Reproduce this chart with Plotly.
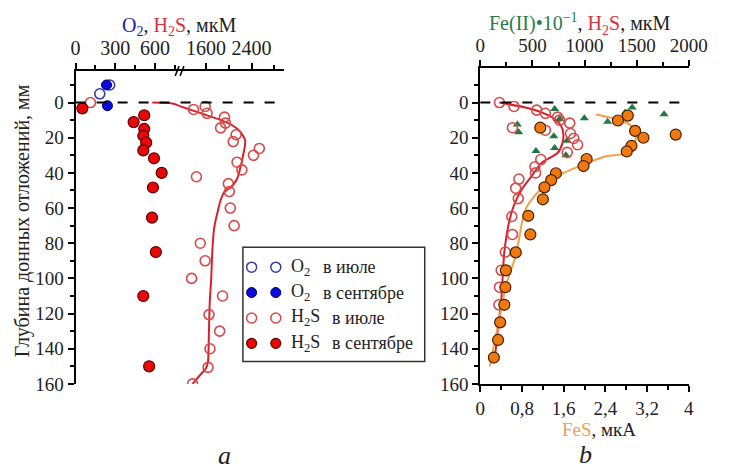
import plotly.graph_objects as go

W, H = 730, 475
def px(x): return x / W
def py(y): return 1 - y / H

FONT = "Liberation Serif, Times New Roman, Tinos, DejaVu Serif, serif"

# ---------------- Panel a data ----------------
o2_jul_conc = [183, 258]
o2_jul_depth = [-5, -10]
o2_sep_conc = [234, 241]
o2_sep_depth = [-10, 1.8]
h2s_sep_conc = [51, 519, 439, 519, 512, 534, 512, 593, 651, 585, 578, 607, 512, 556]
h2s_sep_depth = [3.3, 7.2, 11.1, 15, 18.9, 22.8, 27.2, 31.7, 40, 48.3, 65.4, 85, 110, 150]
h2s_jul_conc = [112, 1379, 1583, 1617, 1923, 1940, 1855, 2127, 2076, 2535, 2433, 2144, 2229, 1430,
                1991, 2008, 2025, 2093, 1498, 1583, 1345, 1889, 1651, 1838, 1668, 1634, 1362]
h2s_jul_depth = [0, 3.9, 2.2, 6.1, 8.3, 11.7, 14.4, 18.3, 22.2, 26.1, 30, 33.9, 38.3, 42.2,
                 46.1, 50.6, 60, 70, 80, 90, 100, 110, 120.6, 130, 140, 150.6, 160]
h2s_jul_fit_conc = [580, 731, 790, 1142, 1464, 1804, 2059, 2200, 2286, 2280, 2258, 2210, 2144, 2040,
                    1918, 1850, 1804, 1760, 1736, 1707, 1690, 1663, 1650, 1634, 1600, 1480, 1362]
h2s_jul_fit_depth = [0, 0.5, 2, 2, 5.6, 9.3, 12.9, 16.5, 21.3, 25, 28.7, 36, 43.5, 48,
                     51, 56, 62, 68, 73, 86, 100, 114, 130, 147, 151, 155.5, 160]

# broken top axis of panel a
BRK_LO, BRK_HI = 790, 1142
ticks_a_lo = [0, 300, 600]
ticks_a_hi = [1600, 2400]

# ---------------- Panel b data ----------------
fe_conc = [713, 761, 998, 1222, 1390, 1457, 1763, 355, 368, 705, 831, 534, 821, 713]
fe_depth = [3.7, 9.4, 8.9, 10.9, 5.6, 2.8, 6.7, 12.5, 16.9, 19.1, 21.7, 27.5, 29.9, 25.9]
h2s_b_conc = [184, 323, 540, 624, 741, 760, 858, 865, 896, 933, 308, 624, 834, 580, 524, 530,
              370, 339, 364, 302, 308, 240, 200, 184, 178]
h2s_b_depth = [0, 2.2, 4.3, 6.1, 8.3, 10, 11.7, 17.6, 20.4, 24, 14.3, 15.7, 28.3, 32.4, 36.5, 40,
               43.5, 48.7, 54.6, 64.8, 75, 85, 95.4, 105, 115]
h2s_b_fit_conc = [181, 432, 589, 710, 772, 796, 787, 741, 587, 494, 401, 323, 277, 230, 200, 169, 137, 100]
h2s_b_fit_depth = [0, 2.8, 5.6, 9.3, 12.9, 17.6, 23.2, 28.7, 34.3, 41.7, 49, 58.3, 67.6, 85, 113, 128, 144.4, 148]
fes_val = [2.83, 2.64, 1.15, 2.97, 3.75, 3.13, 2.90, 2.81, 2.04, 1.98, 1.45, 1.36, 1.23, 1.20,
           0.92, 0.96, 0.68, 0.49, 0.48, 0.46, 0.38, 0.34, 0.26]
fes_depth = [7.4, 10.2, 14.3, 16.1, 18.2, 20, 24.6, 27.8, 32.1, 36.1, 40.2, 44.1, 48.2, 55,
             64.4, 75, 85.2, 95.4, 105, 115, 125, 135, 145]
fes_fit_val = [2.22, 2.59, 2.84, 3.0, 2.97, 2.84, 2.41, 2.0, 1.6, 1.3, 1.05, 0.88, 0.8, 0.74,
               0.66, 0.5, 0.37, 0.27, 0.18]
fes_fit_depth = [6.8, 9.3, 12, 16.7, 22.2, 28.7, 30.5, 35, 40, 45.4, 52.8, 60, 68, 78,
                 89, 103, 122, 137, 150]
ticks_b_top = [0, 500, 1000, 1500, 2000]
ticks_b_bot = [0, 0.8, 1.6, 2.4, 3.2, 4]
ticks_b_bot_txt = ["0", "0,8", "1,6", "2,4", "3,2", "4"]
depth_ticks = list(range(0, 161, 20))

# colours
C_BLUE_O = "#3a3aa8"
C_BLUE_F = "#0a0ae0"
C_RED_O = "#d84848"
C_RED_F = "#e80808"
C_RED_L = "#d8202c"
C_ORANGE = "#f07810"
C_ORANGE_L = "#f2a04a"
C_GREEN = "#1e7a40"
DARK = "#222222"

def split(conc, depth, lo, hi):
    a = [(c, d) for c, d in zip(conc, depth) if c <= lo]
    b = [(c, d) for c, d in zip(conc, depth) if c >= hi]
    return a, b

fig = go.Figure()

# ---- panel a traces ----
fa, fb = split(h2s_jul_fit_conc, h2s_jul_fit_depth, BRK_LO, BRK_HI)
for seg, xa in ((fa, "x"), (fb, "x2")):
    fig.add_trace(go.Scatter(x=[p[0] for p in seg], y=[p[1] for p in seg], mode="lines",
                             line=dict(color=C_RED_L, width=2, shape="spline", smoothing=0.6),
                             xaxis=xa, yaxis="y", hoverinfo="skip"))
ja, jb = split(h2s_jul_conc, h2s_jul_depth, BRK_LO, BRK_HI)
for seg, xa in ((ja, "x"), (jb, "x2")):
    fig.add_trace(go.Scatter(x=[p[0] for p in seg], y=[p[1] for p in seg], mode="markers",
                             marker=dict(symbol="circle-open", size=10, color=C_RED_O,
                                         line=dict(width=1.6, color=C_RED_O)),
                             xaxis=xa, yaxis="y"))
fig.add_trace(go.Scatter(x=h2s_sep_conc, y=h2s_sep_depth, mode="markers",
                         marker=dict(symbol="circle", size=11, color=C_RED_F,
                                     line=dict(width=1.2, color="#5a0000")),
                         xaxis="x", yaxis="y"))
fig.add_trace(go.Scatter(x=o2_jul_conc, y=o2_jul_depth, mode="markers",
                         marker=dict(symbol="circle-open", size=10, color=C_BLUE_O,
                                     line=dict(width=1.6, color=C_BLUE_O)),
                         xaxis="x", yaxis="y"))
fig.add_trace(go.Scatter(x=o2_sep_conc, y=o2_sep_depth, mode="markers",
                         marker=dict(symbol="circle", size=10, color=C_BLUE_F,
                                     line=dict(width=1, color="#00005a")),
                         xaxis="x", yaxis="y"))

# ---- panel b traces ----
fig.add_trace(go.Scatter(x=fe_conc, y=fe_depth, mode="markers",
                         marker=dict(symbol="triangle-up", size=8, color=C_GREEN, line=dict(width=0)),
                         xaxis="x3", yaxis="y2"))
fig.add_trace(go.Scatter(x=h2s_b_fit_conc, y=h2s_b_fit_depth, mode="lines",
                         line=dict(color=C_RED_L, width=2, shape="spline", smoothing=0.6),
                         xaxis="x3", yaxis="y2", hoverinfo="skip"))
fig.add_trace(go.Scatter(x=fes_fit_val, y=fes_fit_depth, mode="lines",
                         line=dict(color=C_ORANGE_L, width=2, shape="spline", smoothing=0.6),
                         xaxis="x4", yaxis="y2", hoverinfo="skip"))
fig.add_trace(go.Scatter(x=h2s_b_conc, y=h2s_b_depth, mode="markers",
                         marker=dict(symbol="circle-open", size=10, color=C_RED_O,
                                     line=dict(width=1.6, color=C_RED_O)),
                         xaxis="x3", yaxis="y2"))
fig.add_trace(go.Scatter(x=fes_val, y=fes_depth, mode="markers",
                         marker=dict(symbol="circle", size=11, color=C_ORANGE,
                                     line=dict(width=1.2, color="#4a2000")),
                         xaxis="x4", yaxis="y2"))

tickfont = dict(family=FONT, size=19, color=DARK)
axcommon = dict(showgrid=False, zeroline=False, showline=True, linecolor="black", linewidth=2,
                ticks="outside", ticklen=6, tickwidth=1.5, tickcolor="black")
minor_style = dict(ticklen=4, ticks="outside", tickcolor="black", tickwidth=1.5)

y_top_a, y_bot = 72.7, 393
y_top_b = 69.3
xa0, xbrk, xa1 = 73, 181, 288
xb0, xb1 = 491.5, 707

fig.update_layout(
    width=W, height=H, margin=dict(l=0, r=0, t=0, b=0),
    paper_bgcolor="white", plot_bgcolor="rgba(0,0,0,0)", showlegend=False,
    font=dict(family=FONT, color=DARK),
    xaxis=dict(domain=[px(xa0), px(xbrk)], range=[0, BRK_LO], anchor="y", side="top",
               tickvals=ticks_a_lo, ticktext=[str(v) for v in ticks_a_lo],
               tickfont=dict(family=FONT, size=20, color=DARK),
               minor=dict(tickvals=[150, 450, 750], **minor_style), **axcommon),
    xaxis2=dict(domain=[px(xbrk), px(xa1)], range=[BRK_HI, 2961], anchor="y", side="top",
                tickvals=ticks_a_hi, ticktext=[str(v) for v in ticks_a_hi],
                tickfont=dict(family=FONT, size=20, color=DARK),
                minor=dict(tickvals=[2000, 2800], **minor_style), **axcommon),
    yaxis=dict(domain=[py(y_bot), py(y_top_a)], range=[160, (y_top_a - 105) / 1.8], anchor="x",
               tickvals=depth_ticks, tickfont=tickfont,
               minor=dict(dtick=10, tick0=0, **minor_style), **axcommon),
    xaxis3=dict(domain=[px(xb0), px(xb1)], range=[0, 2000], anchor="y2", side="top",
                tickvals=ticks_b_top, tickfont=tickfont,
                minor=dict(dtick=250, tick0=0, **minor_style), **axcommon),
    xaxis4=dict(domain=[px(xb0), px(xb1)], range=[0, 4], anchor="y2", side="bottom", overlaying="x3",
                tickvals=ticks_b_bot, ticktext=ticks_b_bot_txt, tickfont=tickfont,
                minor=dict(dtick=0.4, tick0=0, **minor_style), **axcommon),
    yaxis2=dict(domain=[py(y_bot), py(y_top_b)], range=[160, (y_top_b - 105) / 1.8], anchor="x3",
                tickvals=depth_ticks, tickfont=tickfont,
                minor=dict(dtick=10, tick0=0, **minor_style), **axcommon),
)

shapes = []
# dashed zero-depth lines
shapes.append(dict(type="line", xref="paper", yref="y", x0=px(xa0), x1=px(xa1), y0=0, y1=0,
                   line=dict(color="black", width=2, dash="10px,11px")))
shapes.append(dict(type="line", xref="paper", yref="y2", x0=px(xb0), x1=px(xb1), y0=0, y1=0,
                   line=dict(color="black", width=2, dash="10px,11px")))
# axis break marks
for dx in (-3, 2):
    shapes.append(dict(type="line", xref="paper", yref="paper",
                       x0=px(xbrk + dx - 2), x1=px(xbrk + dx + 2), y0=py(y_top_a + 5), y1=py(y_top_a - 5),
                       line=dict(color="black", width=1.5)))
# legend box
lx0, lx1, ly0, ly1 = 246, 434, 253, 370
shapes.append(dict(type="rect", xref="paper", yref="paper", x0=px(lx0), x1=px(lx1), y0=py(ly1), y1=py(ly0),
                   line=dict(color="#333333", width=1.5), fillcolor="white", layer="below"))

legend_rows = [
    (273.5, "O<sub>2</sub>", "в июле", 327, "white", C_BLUE_O, 1.5),
    (299.5, "O<sub>2</sub>", "в сентябре", 327, C_BLUE_F, "#00005a", 1),
    (325.5, "H<sub>2</sub>S", "в июле", 336, "white", C_RED_O, 1.5),
    (351.5, "H<sub>2</sub>S", "в сентябре", 336, C_RED_F, "#5a0000", 1.2),
]
annotations = []
for yrow, lab, month, mx, fill, edge, lw in legend_rows:
    for cx in (255, 280):
        shapes.append(dict(type="circle", xref="paper", yref="paper", xsizemode="pixel", ysizemode="pixel",
                           xanchor=px(cx), yanchor=py(yrow), x0=-5, x1=5, y0=-5, y1=5,
                           fillcolor=fill, line=dict(color=edge, width=lw)))
    annotations.append(dict(x=px(294), y=py(yrow), xref="paper", yref="paper", xanchor="left", yanchor="middle",
                            text=lab, showarrow=False, font=dict(family=FONT, size=18, color=DARK)))
    annotations.append(dict(x=px(mx), y=py(yrow), xref="paper", yref="paper", xanchor="left", yanchor="middle",
                            text=month, showarrow=False, font=dict(family=FONT, size=18, color=DARK)))

# titles
annotations.append(dict(x=px(180), y=py(27), xref="paper", yref="paper", xanchor="center", yanchor="middle",
                        showarrow=False, font=dict(family=FONT, size=20, color=DARK),
                        text="<span style='color:#1a1aa8'>O<sub>2</sub></span>, "
                             "<span style='color:#d83040'>H<sub>2</sub>S</span>, мкМ"))
annotations.append(dict(x=px(595), y=py(25), xref="paper", yref="paper", xanchor="center", yanchor="middle",
                        showarrow=False, font=dict(family=FONT, size=20, color=DARK),
                        text="<span style='color:#2a7a4a'>Fe(II)•10<sup>−1</sup></span>, "
                             "<span style='color:#d83040'>H<sub>2</sub>S</span>, мкМ"))
annotations.append(dict(x=px(614), y=py(440), xref="paper", yref="paper", xanchor="center", yanchor="middle",
                        showarrow=False, font=dict(family=FONT, size=19, color=DARK),
                        text="<span style='color:#f0a050'>FeS</span>, мкА"))
annotations.append(dict(x=px(18), y=py(226), xref="paper", yref="paper", xanchor="center", yanchor="middle",
                        textangle=-90, showarrow=False, font=dict(family=FONT, size=20, color=DARK),
                        text="Глубина донных отложений, мм"))
annotations.append(dict(x=px(227), y=py(466), xref="paper", yref="paper", xanchor="center", yanchor="middle",
                        showarrow=False, font=dict(family=FONT, size=26, color=DARK), text="<i>a</i>"))
annotations.append(dict(x=px(600), y=py(465), xref="paper", yref="paper", xanchor="center", yanchor="middle",
                        showarrow=False, font=dict(family=FONT, size=26, color=DARK), text="<i>b</i>"))

fig.update_layout(shapes=shapes, annotations=annotations)
fig.write_html("out.html")
